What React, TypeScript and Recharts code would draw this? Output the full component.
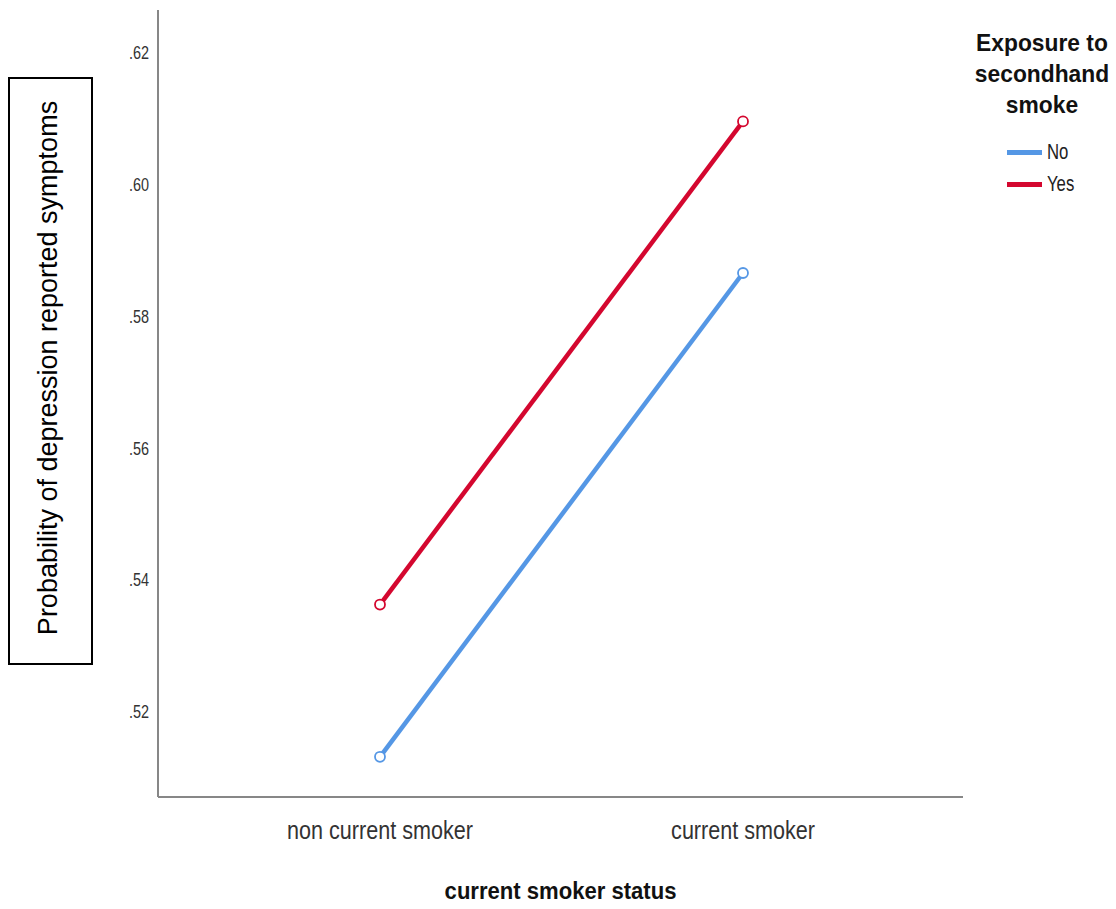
import { LineChart, Line, XAxis, YAxis, Label } from 'recharts';

// categories on the x axis
const smokerStatus = ['non current smoker', 'current smoker'];
// estimated marginal means per exposure group
const noExposure = [0.5131, 0.5865];
const yesExposure = [0.5362, 0.6095];
// y tick values
const yTicks = [0.52, 0.54, 0.56, 0.58, 0.6, 0.62];
const seriesNames = ['No', 'Yes'];

const BLUE = '#5597E5';
const RED = '#D4072F';
const SANS = '"Liberation Sans", Arial, sans-serif';
const COLORS = [BLUE, RED];

const data = smokerStatus.map((status, i) => ({
  status,
  No: noExposure[i],
  Yes: yesExposure[i],
}));

const fmt = (v: number) => v.toFixed(2).replace(/^0/, '');

// narrow-looking tick text (SPSS style)
const XTick = ({ x, y, payload }: any) => (
  <text
    transform={`translate(${x},${y + 40}) scale(0.83,1)`}
    textAnchor="middle"
    fontFamily={SANS}
    fontSize={26}
    fill="#333"
  >
    {payload.value}
  </text>
);

const YTick = ({ x, y, payload }: any) => (
  <text
    transform={`translate(${x - 7},${y + 7}) scale(0.76,1)`}
    textAnchor="end"
    fontFamily={SANS}
    fontSize={19}
    fill="#333"
  >
    {fmt(payload.value)}
  </text>
);

const XTitle = ({ viewBox }: any) => (
  <text
    transform={`translate(${viewBox.x + viewBox.width / 2},${viewBox.y + 102}) scale(0.96,1)`}
    textAnchor="middle"
    fontFamily={SANS}
    fontSize={23}
    fontWeight="bold"
    fill="#111"
  >
    current smoker status
  </text>
);

const YLabelBox = () => (
  <g>
    <rect x={9} y={78} width={83} height={586} fill="#fff" stroke="#000" strokeWidth={2} />
    <text
      transform="translate(57,368) rotate(-90)"
      textAnchor="middle"
      fontFamily={SANS}
      fontSize={27}
      fill="#000"
    >
      Probability of depression reported symptoms
    </text>
  </g>
);

const LegendBox = () => (
  <div style={{ position: 'absolute', left: 967, top: 27, width: 150, fontFamily: SANS }}>
    <div style={{ fontWeight: 'bold', fontSize: 24, lineHeight: '31px', color: '#111', textAlign: 'center', transform: 'scaleX(0.95)' }}>
      Exposure to<br />secondhand<br />smoke
    </div>
    <div style={{ position: 'absolute', left: 40, top: 109 }}>
      {seriesNames.map((name, i) => (
        <div key={name} style={{ display: 'flex', alignItems: 'center', height: 32 }}>
          <span style={{ display: 'inline-block', width: 35, height: 5, background: COLORS[i], marginRight: 5 }} />
          <span style={{ fontSize: 22, color: '#222', display: 'inline-block', transform: 'scaleX(0.76)', transformOrigin: 'left center' }}>
            {name}
          </span>
        </div>
      ))}
    </div>
  </div>
);

export default function App() {
  return (
    <div style={{ position: 'absolute', left: 0, top: 0, width: 1116, height: 909, background: '#fff' }}>
      <LineChart width={1116} height={909} data={data} margin={{ top: 10, right: 153, bottom: 82, left: 0 }}>
        <XAxis
          dataKey="status"
          scale="point"
          padding={{ left: 222, right: 220 }}
          axisLine={{ stroke: '#878787', strokeWidth: 2 }}
          tickLine={false}
          tickSize={0}
          tick={<XTick />}
          height={30}
        >
          <Label content={<XTitle />} />
        </XAxis>
        <YAxis
          width={158}
          domain={[0.507, 0.6264]}
          ticks={yTicks}
          axisLine={{ stroke: '#878787', strokeWidth: 2 }}
          tickLine={false}
          tickSize={0}
          tick={<YTick />}
          label={{ content: <YLabelBox /> }}
        />
        <Line
          type="linear"
          dataKey="No"
          name={seriesNames[0]}
          stroke={BLUE}
          strokeWidth={4.5}
          dot={{ r: 5, stroke: BLUE, strokeWidth: 1.8, fill: '#fff' }}
          isAnimationActive={false}
        />
        <Line
          type="linear"
          dataKey="Yes"
          name={seriesNames[1]}
          stroke={RED}
          strokeWidth={4.5}
          dot={{ r: 5, stroke: RED, strokeWidth: 1.8, fill: '#fff' }}
          isAnimationActive={false}
        />
      </LineChart>
      <LegendBox />
    </div>
  );
}
